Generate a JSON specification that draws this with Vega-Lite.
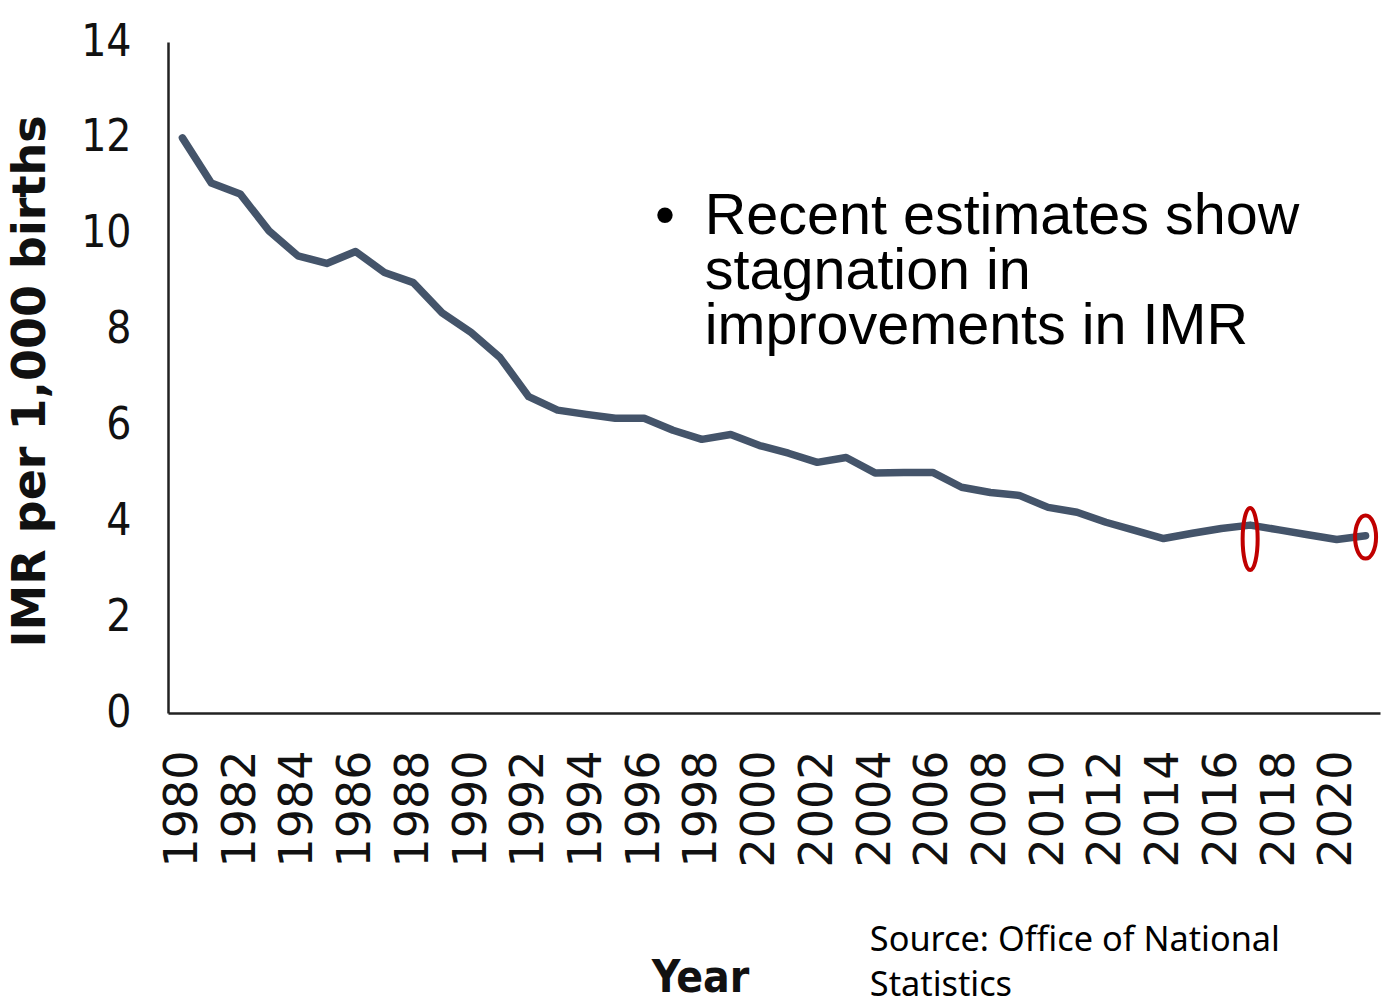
{
  "$schema": "https://vega.github.io/schema/vega-lite/v6.json",
  "width": 1212,
  "height": 671,
  "autosize": {"type": "none"},
  "padding": {"left": 168, "top": 42, "right": 8, "bottom": 284},
  "background": "white",
  "config": {"view": {"stroke": null}},
  "layer": [
    {
      "data": {"values": [
        {"year": 1980, "imr": 12.0}, {"year": 1981, "imr": 11.06}, {"year": 1982, "imr": 10.83},
        {"year": 1983, "imr": 10.06}, {"year": 1984, "imr": 9.54}, {"year": 1985, "imr": 9.38},
        {"year": 1986, "imr": 9.63}, {"year": 1987, "imr": 9.19}, {"year": 1988, "imr": 8.98},
        {"year": 1989, "imr": 8.35}, {"year": 1990, "imr": 7.94}, {"year": 1991, "imr": 7.42},
        {"year": 1992, "imr": 6.6}, {"year": 1993, "imr": 6.32}, {"year": 1994, "imr": 6.23},
        {"year": 1995, "imr": 6.15}, {"year": 1996, "imr": 6.15}, {"year": 1997, "imr": 5.9},
        {"year": 1998, "imr": 5.71}, {"year": 1999, "imr": 5.81}, {"year": 2000, "imr": 5.58},
        {"year": 2001, "imr": 5.42}, {"year": 2002, "imr": 5.23}, {"year": 2003, "imr": 5.33},
        {"year": 2004, "imr": 5.01}, {"year": 2005, "imr": 5.02}, {"year": 2006, "imr": 5.02},
        {"year": 2007, "imr": 4.71}, {"year": 2008, "imr": 4.6}, {"year": 2009, "imr": 4.54},
        {"year": 2010, "imr": 4.29}, {"year": 2011, "imr": 4.19}, {"year": 2012, "imr": 3.98},
        {"year": 2013, "imr": 3.81}, {"year": 2014, "imr": 3.64}, {"year": 2015, "imr": 3.75},
        {"year": 2016, "imr": 3.85}, {"year": 2017, "imr": 3.92}, {"year": 2018, "imr": 3.82},
        {"year": 2019, "imr": 3.72}, {"year": 2020, "imr": 3.62}, {"year": 2021, "imr": 3.7}
      ]},
      "mark": {"type": "line", "color": "#44546A", "strokeWidth": 7.5, "strokeJoin": "round", "strokeCap": "round"},
      "encoding": {
        "x": {
          "field": "year", "type": "quantitative",
          "scale": {"domain": [1979.5, 2021.5], "nice": false, "zero": false},
          "axis": {
            "values": [1980, 1982, 1984, 1986, 1988, 1990, 1992, 1994, 1996, 1998, 2000, 2002, 2004, 2006, 2008, 2010, 2012, 2014, 2016, 2018, 2020],
            "format": "d", "labelAngle": 270, "labelAlign": "right", "labelBaseline": "middle",
            "labelFont": "DejaVu Sans", "labelFontSize": 46, "labelColor": "#111",
            "labelPadding": 37, "ticks": false, "grid": false,
            "domainColor": "#222", "domainWidth": 2.5,
            "labelOverlap": false, "labelFlush": false,
            "title": "Year", "titleFont": "DejaVu Sans Condensed, Liberation Sans", "titleFontWeight": "bold",
            "titleFontSize": 44, "titleColor": "#111", "titleX": 532, "titleY": 278,
            "titleBaseline": "alphabetic", "titleAlign": "center"
          }
        },
        "y": {
          "field": "imr", "type": "quantitative",
          "scale": {"domain": [0, 14], "nice": false},
          "axis": {
            "values": [0, 2, 4, 6, 8, 10, 12, 14],
            "labelFont": "DejaVu Sans Condensed, Liberation Sans", "labelFontSize": 44, "labelColor": "#111",
            "labelPadding": 37, "ticks": false, "grid": false,
            "domainColor": "#222", "domainWidth": 2.5,
            "labelOverlap": false, "labelFlush": false,
            "title": "IMR per 1,000 births", "titleFont": "DejaVu Sans", "titleFontWeight": "bold",
            "titleFontSize": 46, "titleColor": "#111", "titleX": -138, "titleY": 339,
            "titleBaseline": "middle", "titleAlign": "center", "titleAngle": 270
          }
        }
      }
    },
    {
      "data": {"values": [{"year": 2017, "imr": 3.63}]},
      "mark": {"type": "point", "filled": false, "stroke": "#C00000", "strokeWidth": 4, "opacity": 1,
        "shape": "M0,-1C0.134,-1,0.242,-0.552,0.242,0C0.242,0.552,0.134,1,0,1C-0.134,1,-0.242,0.552,-0.242,0C-0.242,-0.552,-0.134,-1,0,-1Z",
        "size": 3844},
      "encoding": {
        "x": {"field": "year", "type": "quantitative"},
        "y": {"field": "imr", "type": "quantitative"}
      }
    },
    {
      "data": {"values": [{"year": 2021, "imr": 3.67}]},
      "mark": {"type": "point", "filled": false, "stroke": "#C00000", "strokeWidth": 4, "opacity": 1,
        "shape": "M0,-1C0.27,-1,0.488,-0.552,0.488,0C0.488,0.552,0.27,1,0,1C-0.27,1,-0.488,0.552,-0.488,0C-0.488,-0.552,-0.27,-1,0,-1Z",
        "size": 1849},
      "encoding": {
        "x": {"field": "year", "type": "quantitative"},
        "y": {"field": "imr", "type": "quantitative"}
      }
    },
    {
      "data": {"values": [{}]},
      "mark": {"type": "text", "align": "center", "baseline": "alphabetic", "font": "Liberation Sans", "fontSize": 57, "color": "black"},
      "encoding": {
        "x": {"datum": 1996.72},
        "y": {"datum": 10.0},
        "text": {"value": "•"}
      }
    },
    {
      "data": {"values": [{}]},
      "mark": {"type": "text", "align": "left", "baseline": "alphabetic", "font": "Liberation Sans", "fontSize": 57.5, "lineHeight": 55, "color": "black"},
      "encoding": {
        "x": {"datum": 1998.1},
        "y": {"datum": 10.0},
        "text": {"value": ["Recent estimates show", "stagnation in", "improvements in IMR"]}
      }
    },
    {
      "data": {"values": [{}]},
      "mark": {"type": "text", "align": "left", "baseline": "alphabetic", "font": "Noto Sans", "fontSize": 34.3, "lineHeight": 45, "color": "black"},
      "encoding": {
        "x": {"datum": 2003.82},
        "y": {"datum": -4.96},
        "text": {"value": ["Source: Office of National", "Statistics"]}
      }
    }
  ]
}
